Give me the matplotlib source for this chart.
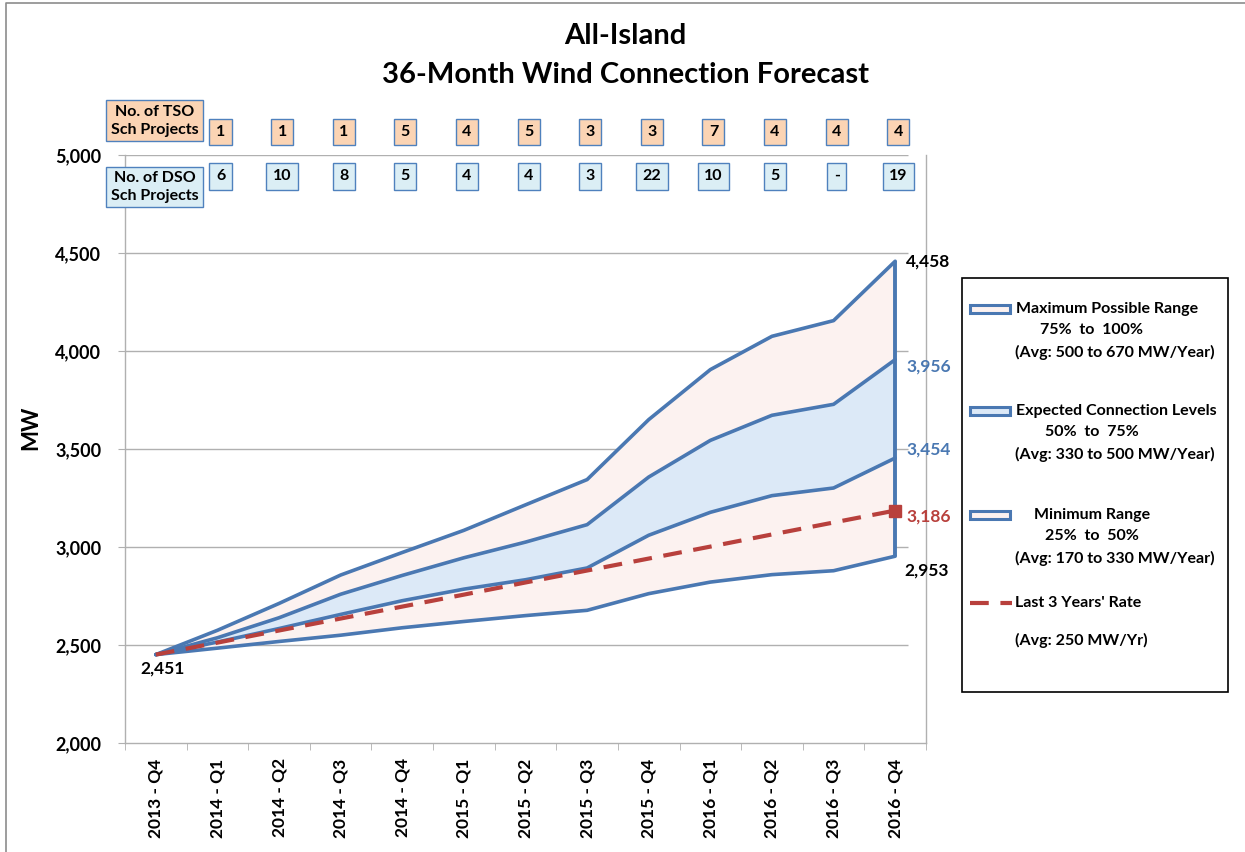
import matplotlib
matplotlib.use('Agg')
import matplotlib.pyplot as plt
import matplotlib.transforms as transforms
from matplotlib.lines import Line2D
from matplotlib.patches import Rectangle
import numpy as np

plt.rcParams['font.family'] = ['Lato', 'DejaVu Sans']

quarters = ['2013 - Q4', '2014 - Q1', '2014 - Q2', '2014 - Q3', '2014 - Q4',
            '2015 - Q1', '2015 - Q2', '2015 - Q3', '2015 - Q4',
            '2016 - Q1', '2016 - Q2', '2016 - Q3', '2016 - Q4']

max_range = [2451, 2575, 2712, 2857, 2972, 3085, 3215, 3344, 3650, 3905, 4075, 4155, 4458]
exp_high = [2451, 2537, 2639, 2759, 2855, 2945, 3025, 3114, 3357, 3544, 3672, 3728, 3956]
exp_low = [2451, 2515, 2584, 2656, 2726, 2785, 2833, 2893, 3060, 3177, 3262, 3301, 3454]
min_range = [2451, 2484, 2518, 2550, 2588, 2620, 2650, 2677, 2762, 2821, 2859, 2879, 2953]
last3_rate = [2451, 2512, 2574, 2635, 2696, 2757, 2819, 2880, 2941, 3002, 3064, 3125, 3186]

tso_projects = ['1', '1', '1', '5', '4', '5', '3', '3', '7', '4', '4', '4']
dso_projects = ['6', '10', '8', '5', '4', '4', '3', '22', '10', '5', '-', '19']

blue = '#4a78b2'
red = '#b8403c'
pink_fill = '#fcf2f0'
blue_fill = '#dce9f7'
grid_col = '#b0b0b0'

W, H = 1245, 852
fig = plt.figure(figsize=(12.45, 8.52), dpi=100)
ax = fig.add_axes([125 / W, 1 - 743 / H, 801 / W, 588 / H])

x = np.arange(len(quarters))

ax.fill_between(x, min_range, max_range, color=pink_fill, lw=0, zorder=1)
ax.fill_between(x, exp_low, exp_high, color=blue_fill, lw=0, zorder=2)

for series in (max_range, exp_high, exp_low, min_range):
    ax.plot(x, series, color=blue, lw=2.6, zorder=4, solid_capstyle='round')
ax.vlines(x[-1], min_range[-1], max_range[-1], color=blue, lw=2.8, zorder=4)

ax.plot(x, last3_rate, color=red, lw=3, ls=(0, (4.5, 2.8)), zorder=5)
ax.plot(x[-1], last3_rate[-1], marker='s', ms=8, color=red, zorder=6)

ax.set_xlim(-0.5, len(quarters) - 0.5)
ax.set_ylim(2000, 5000)
yt = np.arange(2000, 5001, 500)
ax.set_yticks(yt)
ax.set_yticklabels(['{:,}'.format(v) for v in yt], fontsize=13, fontweight='bold')
ax.hlines(yt[1:], -0.5, 12.2, color=grid_col, lw=1, zorder=0)

ax.set_xticks(x)
ax.set_xticklabels(quarters, rotation=90, fontsize=12.5, fontweight='bold')
ax.set_xticks(np.arange(-0.5, len(quarters)), minor=True)
ax.tick_params(axis='x', which='major', length=0, pad=11)
ax.tick_params(axis='x', which='minor', length=5, color=grid_col)
ax.tick_params(axis='y', length=5, color=grid_col, pad=12)

ax.spines['top'].set_visible(False)
for side in ('left', 'bottom', 'right'):
    ax.spines[side].set_color(grid_col)
    ax.spines[side].set_linewidth(1)

ax.set_ylabel('MW', fontsize=16, fontweight='bold')
ax.yaxis.set_label_coords(-0.104, 0.536)

# end-point value labels
px = 0.72
lab = dict(textcoords='offset points', va='center', fontsize=12.5, fontweight='bold')
ax.annotate('{:,}'.format(max_range[-1]), (x[-1], max_range[-1]), xytext=(11 * px, 0),
            ha='left', color='black', **lab)
ax.annotate('{:,}'.format(exp_high[-1]), (x[-1], exp_high[-1]), xytext=(11 * px, -7 * px),
            ha='left', color=blue, **lab)
ax.annotate('{:,}'.format(exp_low[-1]), (x[-1], exp_low[-1]), xytext=(11 * px, 9 * px),
            ha='left', color=blue, **lab)
ax.annotate('{:,}'.format(last3_rate[-1]), (x[-1], last3_rate[-1]), xytext=(11 * px, -6 * px),
            ha='left', color=red, **lab)
ax.annotate('{:,}'.format(min_range[-1]), (x[-1], min_range[-1]), xytext=(9 * px, -14 * px),
            ha='left', color='black', **lab)
ax.annotate('{:,}'.format(min_range[0]), (x[0], min_range[0]), xytext=(7 * px, -14 * px),
            ha='center', color='black', **lab)

# project count boxes
trans = transforms.blended_transform_factory(ax.transData, ax.transAxes)
tso_fc = '#fbd4b4'
dso_fc = '#dbeef5'
box_ec = '#4f81bd'
ax.text(-0.02, 1.058, 'No. of TSO\nSch Projects', transform=trans, ha='center', va='center',
        fontsize=11.5, fontweight='bold', linespacing=1.3, clip_on=False,
        bbox=dict(boxstyle='square,pad=0.3', fc=tso_fc, ec=box_ec, lw=1))
ax.text(-0.02, 0.9456, 'No. of DSO\nSch Projects', transform=trans, ha='center', va='center',
        fontsize=11.5, fontweight='bold', linespacing=1.3, clip_on=False,
        bbox=dict(boxstyle='square,pad=0.3', fc=dso_fc, ec=box_ec, lw=1))
for i, (t, d) in enumerate(zip(tso_projects, dso_projects)):
    ax.text(i + 1 + 0.05, 1.039, t, transform=trans, ha='center', va='center',
            fontsize=11.5, fontweight='bold', clip_on=False,
            bbox=dict(boxstyle='square,pad=0.4', fc=tso_fc, ec=box_ec, lw=1))
    ax.text(i + 1 + 0.05, 0.964, d, transform=trans, ha='center', va='center',
            fontsize=11.5, fontweight='bold', clip_on=False,
            bbox=dict(boxstyle='square,pad=0.4', fc=dso_fc, ec=box_ec, lw=1))

# title
fig.text(625 / W, 1 - 36 / H, 'All-Island', ha='center', va='center', fontsize=21, fontweight='bold')
fig.text(625 / W, 1 - 75 / H, '36-Month Wind Connection Forecast', ha='center', va='center',
         fontsize=21, fontweight='bold')


def fx(v):
    return v / W


def fy(v):
    return 1 - v / H


# legend box
fig.add_artist(Rectangle((fx(962), fy(692)), 266 / W, 414 / H, transform=fig.transFigure,
                         fc='white', ec='black', lw=1.2))

legend_entries = [
    (309, pink_fill, ['Maximum Possible Range', '75%  to  100%', '(Avg: 500 to 670 MW/Year)']),
    (411, blue_fill, ['Expected Connection Levels', '50%  to  75%', '(Avg: 330 to 500 MW/Year)']),
    (515, pink_fill, ['Minimum Range', '25%  to  50%', '(Avg: 170 to 330 MW/Year)']),
]
leg_fs = 11.5
for yy, fc, lines in legend_entries:
    fig.add_artist(Rectangle((fx(970), fy(yy + 4)), 40 / W, 8 / H, transform=fig.transFigure,
                             fc=fc, ec=blue, lw=2.2))
    if lines[0] == 'Minimum Range':
        fig.text(fx(1092), fy(yy), lines[0], ha='center', va='center', fontsize=leg_fs, fontweight='bold')
    else:
        fig.text(fx(1016), fy(yy), lines[0], ha='left', va='center', fontsize=leg_fs, fontweight='bold')
    fig.text(fx(1092), fy(yy + 21), lines[1], ha='center', va='center', fontsize=leg_fs, fontweight='bold')
    fig.text(fx(1015), fy(yy + 43), lines[2], ha='left', va='center', fontsize=leg_fs, fontweight='bold')

fig.add_artist(Line2D([fx(970), fx(1012)], [fy(603), fy(603)], transform=fig.transFigure,
                      color=red, lw=3, ls=(0, (4.5, 2.8))))
fig.text(fx(1015), fy(603), "Last 3 Years' Rate", ha='left', va='center', fontsize=leg_fs, fontweight='bold')
fig.text(fx(1015), fy(640), '(Avg: 250 MW/Yr)', ha='left', va='center', fontsize=leg_fs, fontweight='bold')

# outer frame (left and top edges visible)
fig.add_artist(Line2D([fx(6), fx(6), fx(1245)], [fy(852), fy(3), fy(3)], transform=fig.transFigure,
                      color='#8c8c8c', lw=1.2))

fig.savefig('out.png', dpi=100)
